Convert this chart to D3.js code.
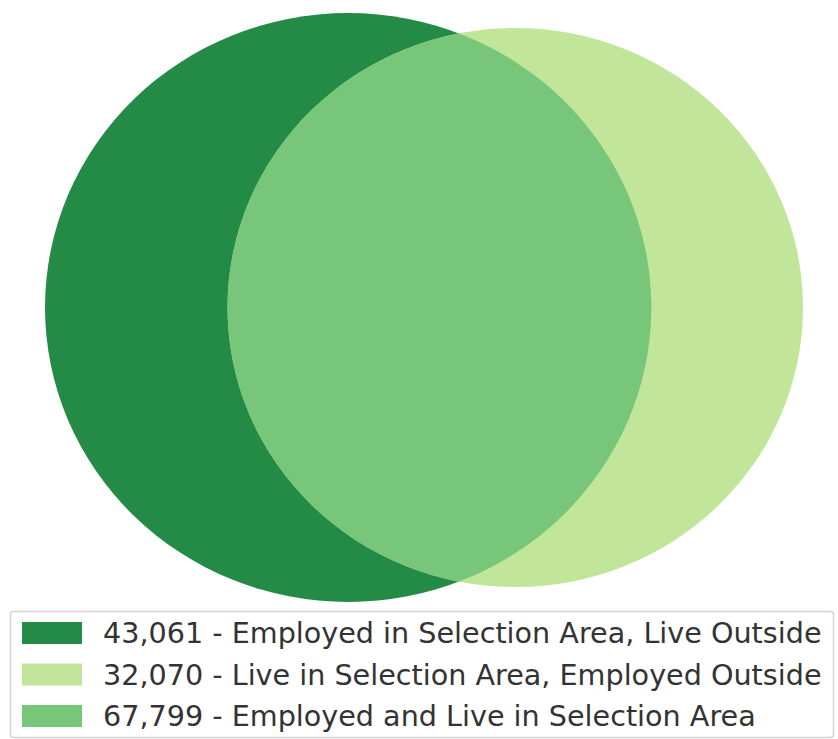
<!DOCTYPE html>
<html>
<head>
<meta charset="utf-8">
<script src="https://cdn.jsdelivr.net/npm/d3@7"></script>
<style>
  body { margin: 0; background: #fff; }
  svg { display: block; font-family: "DejaVu Sans", sans-serif; }
</style>
</head>
<body>
<svg id="chart"></svg>
<script>
// subset sizes
const labels = [
    "Employed in Selection Area, Live Outside",
    "Live in Selection Area, Employed Outside",
    "Employed and Live in Selection Area"
];
const counts = [43061, 32070, 67799];
const colors = ["#238b45", "#c2e699", "#78c679"];

const width = 838, height = 739;

const svg = d3.select("#chart")
    .attr("width", width)
    .attr("height", height);

// circle sizes (area proportional to set total)
const totalA = counts[0] + counts[2];
const totalB = counts[1] + counts[2];
const rScale = d3.scaleSqrt().domain([0, totalA]).range([0, 1]);
const rA = rScale(totalA), rB = rScale(totalB);

function lensArea(d, r1, r2) {
    if (d >= r1 + r2) return 0;
    if (d <= Math.abs(r1 - r2)) return Math.PI * Math.min(r1, r2) ** 2;
    const a = r1 * r1 * Math.acos((d * d + r1 * r1 - r2 * r2) / (2 * d * r1));
    const b = r2 * r2 * Math.acos((d * d + r2 * r2 - r1 * r1) / (2 * d * r2));
    const c = 0.5 * Math.sqrt((-d + r1 + r2) * (d + r1 - r2) * (d - r1 + r2) * (d + r1 + r2));
    return a + b - c;
}

// find distance between centres so the lens matches the overlap count
const target = Math.PI * rA * rA * counts[2] / totalA;
let lo = Math.abs(rA - rB), hi = rA + rB;
for (let i = 0; i < 60; i++) {
    const mid = (lo + hi) / 2;
    if (lensArea(mid, rA, rB) > target) lo = mid; else hi = mid;
}
const dist = (lo + hi) / 2;

const circles = [
    {x: 0, y: 0, r: rA},
    {x: dist, y: 0, r: rB}
];

const xScale = d3.scaleLinear().domain([-rA, dist + rB]).range([45, 803]);
const yScale = d3.scaleLinear().domain([-rA, rA]).range([13, 602]);
const kx = xScale(1) - xScale(0);
const ky = yScale(1) - yScale(0);

const venn = svg.append("g");

svg.append("defs").append("clipPath")
    .attr("id", "clipA")
    .append("ellipse")
    .attr("cx", xScale(circles[0].x))
    .attr("cy", yScale(circles[0].y))
    .attr("rx", circles[0].r * kx)
    .attr("ry", circles[0].r * ky);

venn.selectAll("ellipse.set")
    .data(circles)
    .join("ellipse")
    .attr("class", "set")
    .attr("cx", d => xScale(d.x))
    .attr("cy", d => yScale(d.y))
    .attr("rx", d => d.r * kx)
    .attr("ry", d => d.r * ky)
    .attr("fill", (d, i) => colors[i]);

// overlap region
venn.append("ellipse")
    .attr("cx", xScale(circles[1].x))
    .attr("cy", yScale(circles[1].y))
    .attr("rx", circles[1].r * kx)
    .attr("ry", circles[1].r * ky)
    .attr("clip-path", "url(#clipA)")
    .attr("fill", colors[2]);

// legend
const legendData = counts.map((c, i) => ({
    text: d3.format(",")(c) + " - " + labels[i],
    color: colors[i]
}));

const legend = svg.append("g");

legend.append("rect")
    .attr("x", 10.5)
    .attr("y", 611.5)
    .attr("width", 823)
    .attr("height", 126)
    .attr("rx", 3)
    .attr("fill", "#fff")
    .attr("stroke", "#d4d4d4")
    .attr("stroke-width", 1.5);

const rowY = d3.scalePoint()
    .domain(d3.range(legendData.length))
    .range([633, 716]);

const rows = legend.selectAll("g.row")
    .data(legendData)
    .join("g")
    .attr("class", "row")
    .attr("transform", (d, i) => `translate(0, ${rowY(i)})`);

rows.append("rect")
    .attr("x", 22)
    .attr("y", -11)
    .attr("width", 60)
    .attr("height", 22)
    .attr("fill", d => d.color);

const texts = rows.append("text")
    .attr("x", 103)
    .attr("dy", "0.36em")
    .attr("fill", "#333")
    .style("font-size", "24px")
    .text(d => d.text);

// fit the longest line to the width seen in the picture
const longest = d3.max(texts.nodes(), n => n.getComputedTextLength());
texts.style("font-size", (24 * 719 / longest) + "px");
</script>
</body>
</html>
